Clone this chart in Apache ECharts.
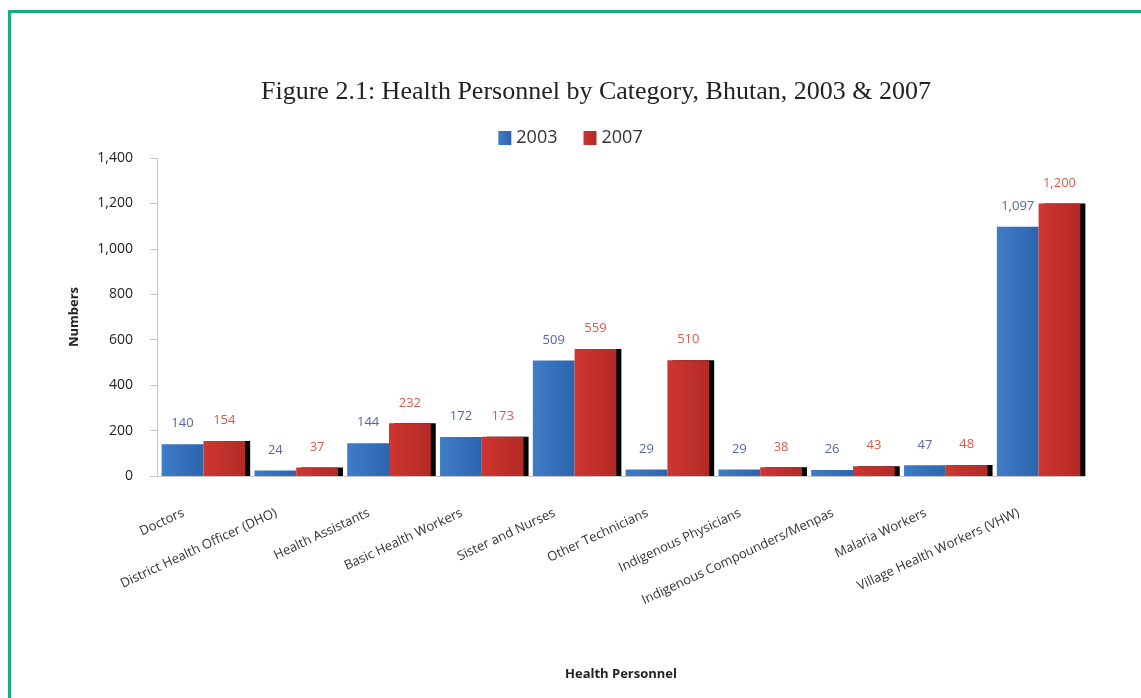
<!DOCTYPE html>
<html>
<head>
<meta charset="utf-8">
<script src="https://cdn.jsdelivr.net/npm/echarts@6/dist/echarts.min.js"></script>
<style>
html,body{margin:0;padding:0;background:#fff;overflow:hidden;}
#frame{position:absolute;left:8px;top:10px;width:2000px;height:2000px;border-left:3px solid #17ad7d;border-top:3px solid #17ad7d;}
#chart{position:absolute;left:0;top:0;width:1141px;height:698px;}
</style>
</head>
<body>
<div id="frame"></div>
<div id="chart"></div>
<script>
const categories = ["Doctors","District Health Officer (DHO)","Health Assistants","Basic Health Workers","Sister and Nurses","Other Technicians","Indigenous Physicians","Indigenous Compounders/Menpas","Malaria Workers","Village Health Workers (VHW)"];
const values2003 = [140,24,144,172,509,29,29,26,47,1097];
const values2007 = [154,37,232,173,559,510,38,43,48,1200];
const yTicks = {min:0, max:1400, interval:200};

const fmt = v => String(v).replace(/\B(?=(\d{3})+(?!\d))/g, ',');
const chart = echarts.init(document.getElementById('chart'));
chart.setOption({
  backgroundColor: 'transparent',
  animation: false,
  title: {
    text: 'Figure 2.1: Health Personnel by Category, Bhutan, 2003 & 2007',
    left: 256, top: 74,
    textStyle: {fontFamily: 'Liberation Serif', fontSize: 26, fontWeight: 'normal', color: '#222'}
  },
  legend: {
    data: ['2003','2007'], top: 124, left: 'center',
    itemWidth: 13, itemHeight: 14, itemGap: 26,
    textStyle: {fontFamily: 'Open Sans', fontSize: 18, color: '#333'},
    icon: 'rect'
  },
  grid: {left: 157, right: 56, top: 158, bottom: 222, containLabel: false},
  xAxis: {
    type: 'category', data: categories,
    name: 'Health Personnel', nameLocation: 'middle', nameGap: 192,
    nameTextStyle: {fontFamily: 'Open Sans', fontWeight: 'bold', fontSize: 13, color: '#222'},
    axisLine: {lineStyle: {color: '#c8c8c8'}},
    axisTick: {show: false},
    axisLabel: {interval: 0, rotate: 25, margin: 27, padding: [0, 22, 0, 0], fontFamily: 'Open Sans', fontSize: 13, color: '#333'}
  },
  yAxis: {
    type: 'value', min: yTicks.min, max: yTicks.max, interval: yTicks.interval,
    name: 'Numbers', nameLocation: 'middle', nameGap: 76, nameRotate: 90,
    nameTextStyle: {fontFamily: 'Open Sans', fontWeight: 'bold', fontSize: 13, color: '#222'},
    axisLine: {show: true, lineStyle: {color: '#c8c8c8'}},
    axisTick: {show: true, inside: false, length: 7, lineStyle: {color: '#c8c8c8'}},
    splitLine: {show: false},
    axisLabel: {margin: 24, fontFamily: 'Open Sans', fontSize: 14, color: '#222', formatter: v => fmt(v)}
  },
  series: [
    {
      name: '2003', type: 'bar', data: values2003, barGap: '0%', barCategoryGap: '10%',
      itemStyle: {color: new echarts.graphic.LinearGradient(0,0,1,0,[{offset:0,color:'#3f7cc8'},{offset:1,color:'#2d64ae'}])},
      label: {show: true, position: 'top', distance: 14, fontFamily: 'Open Sans', fontSize: 13, color: '#5567a6', formatter: p => fmt(p.value)}
    },
    {
      name: '2007', type: 'bar', data: values2007,
      itemStyle: {
        color: new echarts.graphic.LinearGradient(0,0,1,0,[{offset:0,color:'#cf3630'},{offset:1,color:'#b22a26'}]),
        shadowColor: '#000', shadowBlur: 0, shadowOffsetX: 5, shadowOffsetY: 0
      },
      label: {show: true, position: 'top', distance: 14, fontFamily: 'Open Sans', fontSize: 13, color: '#de5a4a', formatter: p => fmt(p.value)}
    }
  ]
});
</script>
</body>
</html>
